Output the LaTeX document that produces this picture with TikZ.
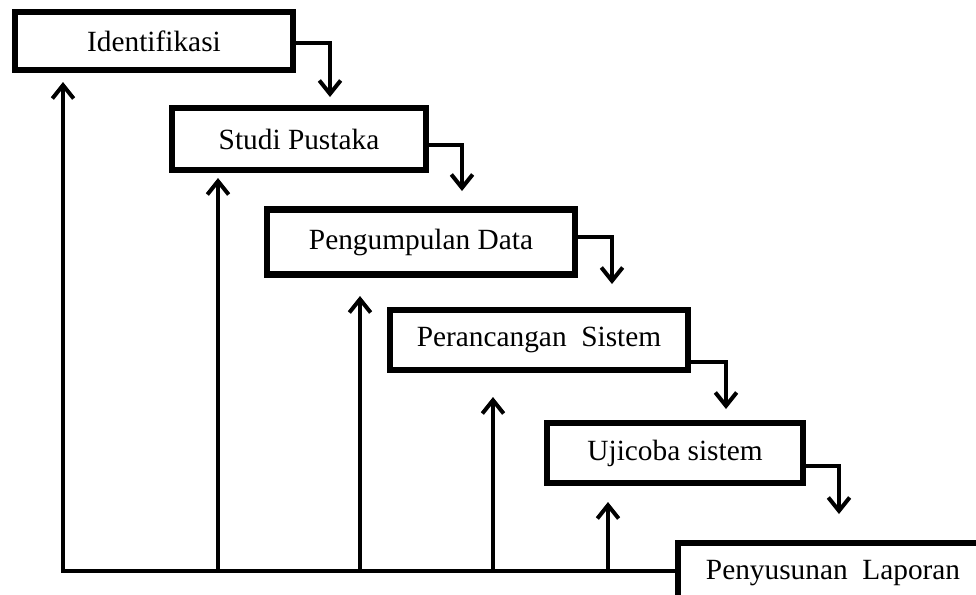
\documentclass[tikz,border=0pt]{standalone}
\usepackage{fontspec}
\setmainfont{Liberation Serif}
\usetikzlibrary{arrows.meta}
\begin{document}
\begin{tikzpicture}[x=0.75pt,y=-0.75pt,
  stagebox/.style={draw, line width=4.6pt, rectangle, inner sep=0pt, font=\fontsize{22}{26}\selectfont},
  flow/.style={line width=3pt, -{Straight Barb[length=10pt,width=16pt,line width=3pt]}}]
\clip (0,0) rectangle (976,594);
\fill[white] (0,0) rectangle (976,594);
\node[stagebox, minimum width=208.5pt, minimum height=43.5pt] (b1) at (154,41) {Identifikasi};
\node[stagebox, minimum width=190.5pt, minimum height=46.5pt] (b2) at (299,139) {Studi Pustaka};
\node[stagebox, minimum width=231pt, minimum height=48.75pt] (b3) at (421,242) {Pengumpulan Data};
\node[stagebox, minimum width=223.5pt, minimum height=45pt] (b4) at (539,340) {Perancangan\ \ Sistem};
\node[stagebox, minimum width=192pt, minimum height=45pt] (b5) at (675,453) {Ujicoba sistem};
\node[stagebox, minimum width=232.5pt, minimum height=45pt, anchor=north west] (b6) at (675,540) {Penyusunan\ \ Laporan};
% forward connectors
\coordinate (t1) at (330,97);
\coordinate (t2) at (462,191);
\coordinate (t3) at (612,284);
\coordinate (t4) at (726,409);
\coordinate (t5) at (839,514);
\draw[flow] (b1.east |- 0,43) -| (t1);
\draw[flow] (b2.east |- 0,145) -| (t2);
\draw[flow] (b3.east |- 0,237) -| (t3);
\draw[flow] (b4.east |- 0,362) -| (t4);
\draw[flow] (b5.east |- 0,466) -| (t5);
% feedback lines
\coordinate (j6) at (b6.west |- 0,571);
\coordinate (u1) at (63,82);
\coordinate (f2) at (218,571);
\coordinate (u2) at (218,178);
\coordinate (f3) at (360,571);
\coordinate (u3) at (360,296);
\coordinate (f4) at (493,571);
\coordinate (u4) at (493,397);
\coordinate (f5) at (608,571);
\coordinate (u5) at (608,502);
\draw[flow] (j6) -| (u1);
\draw[flow] (f2) -- (u2);
\draw[flow] (f3) -- (u3);
\draw[flow] (f4) -- (u4);
\draw[flow] (f5) -- (u5);
\end{tikzpicture}
\end{document}
